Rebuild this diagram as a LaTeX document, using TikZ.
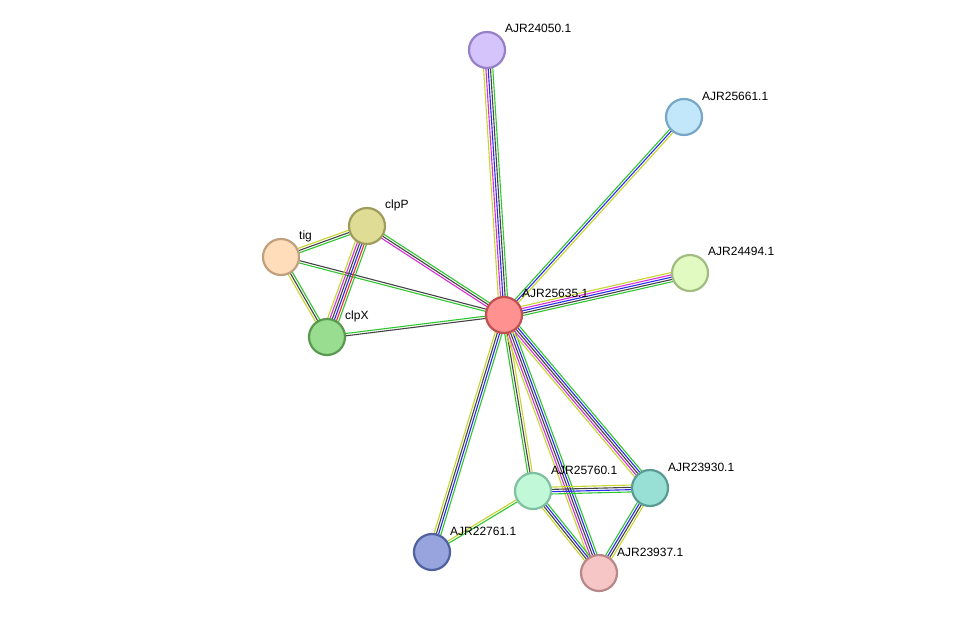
\documentclass[tikz,border=0pt]{standalone}
\usepackage{fontspec}
\setmainfont{Liberation Sans}
\usetikzlibrary{calc}
\definecolor{ed-green}{HTML}{2FC62F}
\definecolor{ed-blue}{HTML}{2A2AF0}
\definecolor{ed-black}{HTML}{444444}
\definecolor{ed-magenta}{HTML}{D62ED6}
\definecolor{ed-yellow}{HTML}{C6D62E}
\definecolor{ed-red}{HTML}{F02A2A}
\newcommand\stredge[4]{%
  \foreach \c [count=\i] in {#4} {
    \pgfmathsetmacro\o{((#3+1)/2-\i)*2.3}
    \draw[ed-\c, line width=1.1pt] ($(#1)!\o pt!90:(#2)$) -- ($(#2)!\o pt!-90:(#1)$);
  }}
\tikzset{
  prot/.style={circle, minimum size=36pt, inner sep=0pt, line width=2.2pt},
  lbl/.style={anchor=west, font=\fontsize{12}{14}\selectfont, inner sep=0pt}
}
\begin{document}
\begin{tikzpicture}[x=1pt, y=-1pt]
    \useasboundingbox (0,0) rectangle (976,619);
    \coordinate (p24050) at (487,50);
    \coordinate (p25661) at (684,117);
    \coordinate (p24494) at (690,273);
    \coordinate (p25635) at (504,315);
    \coordinate (clpP) at (367,226);
    \coordinate (tig) at (281,257);
    \coordinate (clpX) at (327,337);
    \coordinate (p25760) at (533,491);
    \coordinate (p23930) at (650,488);
    \coordinate (p22761) at (432,552);
    \coordinate (p23937) at (599,573);
    % edges
    \stredge{tig}{clpP}{3}{yellow,black,green}
    \stredge{tig}{clpX}{3}{green,black,yellow}
    \stredge{tig}{p25635}{2}{black,green}
    \stredge{clpP}{clpX}{6}{green,red,blue,black,magenta,yellow}
    \stredge{clpP}{p25635}{3}{green,black,magenta}
    \stredge{clpX}{p25635}{2}{green,black}
    \stredge{p25635}{p24050}{5}{yellow,magenta,blue,black,green}
    \stredge{p25635}{p25661}{3}{green,blue,yellow}
    \stredge{p25635}{p24494}{5}{yellow,magenta,blue,black,green}
    \stredge{p25635}{p22761}{4}{green,blue,black,yellow}
    \stredge{p25635}{p25760}{3}{yellow,black,green}
    \stredge{p25635}{p23937}{5}{green,blue,black,magenta,yellow}
    \stredge{p25635}{p23930}{5}{green,blue,black,magenta,yellow}
    \stredge{p25760}{p23930}{4}{yellow,black,blue,green}
    \stredge{p25760}{p23937}{4}{green,blue,black,yellow}
    \stredge{p23930}{p23937}{4}{yellow,black,blue,green}
    \stredge{p25760}{p22761}{2}{green,yellow}
    % proteins
    \node[prot, fill={rgb,255:red,213;green,196;blue,251}, draw={rgb,255:red,150;green,128;blue,200}] (n24050) at (p24050) {};
    \node[prot, fill={rgb,255:red,194;green,230;blue,250}, draw={rgb,255:red,118;green,166;blue,200}] (n25661) at (p25661) {};
    \node[prot, fill={rgb,255:red,225;green,250;blue,193}, draw={rgb,255:red,160;green,188;blue,128}] (n24494) at (p24494) {};
    \node[prot, fill={rgb,255:red,255;green,145;blue,145}, draw={rgb,255:red,192;green,80;blue,80}] (n25635) at (p25635) {};
    \node[prot, fill={rgb,255:red,223;green,220;blue,150}, draw={rgb,255:red,160;green,156;blue,92}] (nclpP) at (clpP) {};
    \node[prot, fill={rgb,255:red,255;green,221;blue,187}, draw={rgb,255:red,192;green,160;blue,126}] (ntig) at (tig) {};
    \node[prot, fill={rgb,255:red,153;green,221;blue,144}, draw={rgb,255:red,90;green,154;blue,80}] (nclpX) at (clpX) {};
    \node[prot, fill={rgb,255:red,192;green,248;blue,216}, draw={rgb,255:red,128;green,192;blue,160}] (n25760) at (p25760) {};
    \node[prot, fill={rgb,255:red,152;green,224;blue,214}, draw={rgb,255:red,90;green,156;blue,148}] (n23930) at (p23930) {};
    \node[prot, fill={rgb,255:red,152;green,164;blue,222}, draw={rgb,255:red,80;green,96;blue,160}] (n22761) at (p22761) {};
    \node[prot, fill={rgb,255:red,246;green,198;blue,198}, draw={rgb,255:red,184;green,136;blue,136}] (n23937) at (p23937) {};
    % labels
    \node[lbl] at ($(p24050)+(18,-22)$) {AJR24050.1};
    \node[lbl] at ($(p25661)+(18,-21)$) {AJR25661.1};
    \node[lbl] at ($(p24494)+(18,-22)$) {AJR24494.1};
    \node[lbl] at ($(p25635)+(18,-22)$) {AJR25635.1};
    \node[lbl] at ($(clpP)+(18,-21)$) {clpP};
    \node[lbl] at ($(tig)+(18,-21)$) {tig};
    \node[lbl] at ($(clpX)+(18,-21)$) {clpX};
    \node[lbl] at ($(p25760)+(18,-21)$) {AJR25760.1};
    \node[lbl] at ($(p23930)+(18,-21)$) {AJR23930.1};
    \node[lbl] at ($(p22761)+(18,-21)$) {AJR22761.1};
    \node[lbl] at ($(p23937)+(18,-21)$) {AJR23937.1};
\end{tikzpicture}
\end{document}
